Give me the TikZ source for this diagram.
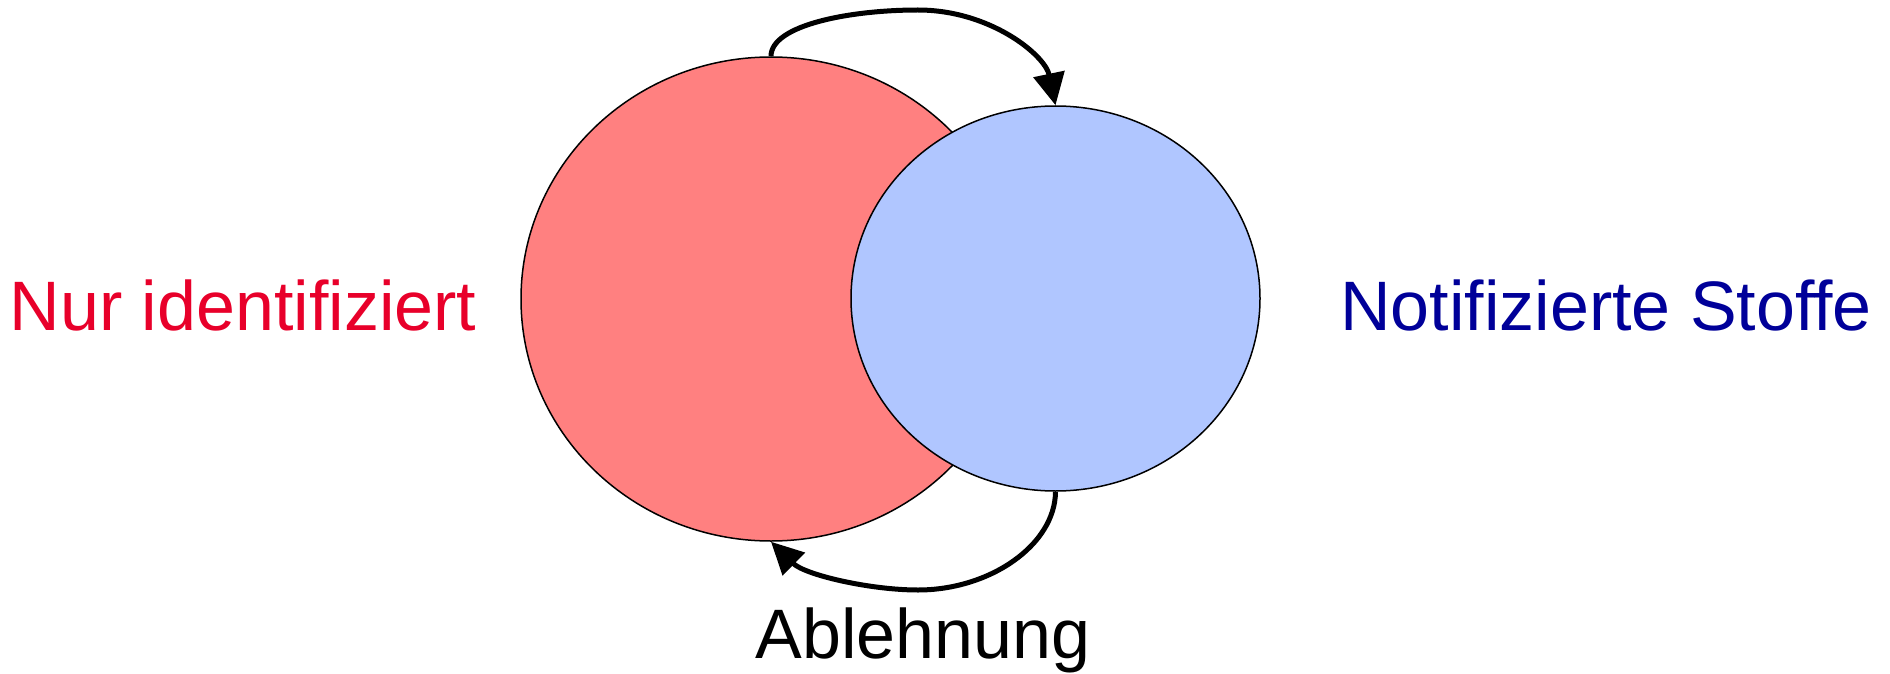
\documentclass[tikz,border=0pt]{standalone}
\usepackage{fontspec}
\setmainfont{Liberation Sans}
\usetikzlibrary{shapes.geometric,arrows.meta}
\definecolor{redfill}{RGB}{255,128,128}
\definecolor{bluefill}{RGB}{176,198,255}
\definecolor{redtext}{RGB}{232,0,42}
\definecolor{bluetext}{RGB}{0,0,153}
\tikzset{
  setcircle/.style={draw=black, line width=1.5pt, ellipse, inner sep=0pt},
  arr/.style={draw=black, line width=5pt, -{Triangle[length=32pt,width=31pt]}},
  lbl/.style={anchor=base, inner sep=0pt, font=\fontsize{70}{80}\selectfont}
}
\begin{document}
\begin{tikzpicture}[x=1pt,y=1pt]
\useasboundingbox (0,0) rectangle (1890,-674);
\node[setcircle, fill=redfill, minimum width=500pt, minimum height=484pt] (R) at (771,-299) {};
\node[setcircle, fill=bluefill, minimum width=409pt, minimum height=385pt] (B) at (1055.5,-298.5) {};
\coordinate (T) at (918,-10);
\coordinate (D) at (918,-590);
\draw[arr] (R.north) .. controls (771,-25) and (850,-10) .. (T) .. controls (990,-10) and (1045,-55) .. (B.north);
\draw[arr] (B.south) .. controls (1055,-545) and (990,-590) .. (D) .. controls (870,-590) and (805,-575) .. (R.south);
\node[lbl, text=redtext] (L) at (243,-330) {Nur identifiziert};
\node[lbl, text=bluetext] (N) at (1606,-330) {Notifizierte Stoffe};
\node[lbl, text=black] (A) at (923,-658) {Ablehnung};
\end{tikzpicture}
\end{document}
